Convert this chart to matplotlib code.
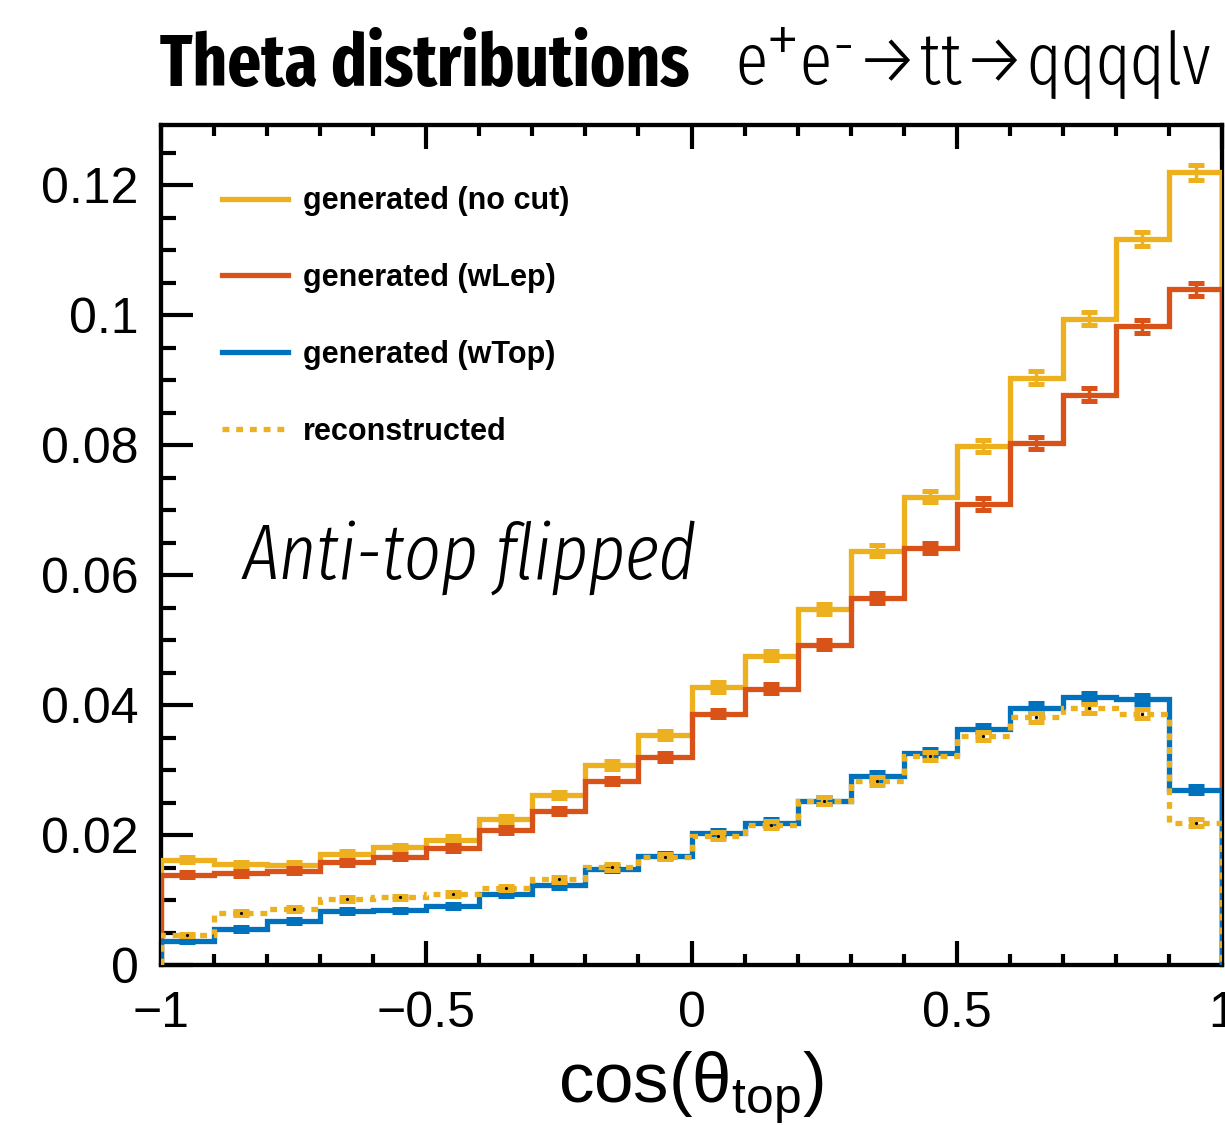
import numpy as np
import matplotlib
matplotlib.use("Agg")
import matplotlib.pyplot as plt
from matplotlib import font_manager
from matplotlib.lines import Line2D
from matplotlib.ticker import MultipleLocator, FuncFormatter

# binning of cos(theta_top)
x_lo, x_hi, n_bins = -1.0, 1.0, 20

# bin contents
no_cut = [0.0162, 0.0155, 0.0154, 0.0171, 0.0181, 0.0193, 0.0224, 0.0262, 0.0308, 0.0354,
          0.0428, 0.0476, 0.0548, 0.0638, 0.0721, 0.0799, 0.0904, 0.0995, 0.1117, 0.1220]
w_lep = [0.0139, 0.0141, 0.0145, 0.0158, 0.0167, 0.0180, 0.0208, 0.0237, 0.0283, 0.0320,
         0.0387, 0.0425, 0.0493, 0.0565, 0.0642, 0.0710, 0.0804, 0.0878, 0.0983, 0.1040]
w_top = [0.0037, 0.0056, 0.0068, 0.0083, 0.0084, 0.0091, 0.0110, 0.0123, 0.0148, 0.0168,
         0.0203, 0.0219, 0.0253, 0.0291, 0.0327, 0.0364, 0.0396, 0.0412, 0.0409, 0.0270]
reco = [0.0046, 0.0080, 0.0086, 0.0102, 0.0104, 0.0109, 0.0119, 0.0132, 0.0151, 0.0167,
        0.0199, 0.0216, 0.0253, 0.0283, 0.0322, 0.0352, 0.0381, 0.0395, 0.0387, 0.0219]

# stat. errors
err_no_cut = [0.0004, 0.0004, 0.0004, 0.0004, 0.0004, 0.0005, 0.0005, 0.0005, 0.0006, 0.0006,
              0.0007, 0.0007, 0.0008, 0.0008, 0.0009, 0.0009, 0.0010, 0.0010, 0.0011, 0.0011]
err_w_lep = [0.0004, 0.0004, 0.0004, 0.0004, 0.0004, 0.0004, 0.0005, 0.0005, 0.0005, 0.0006,
             0.0006, 0.0007, 0.0007, 0.0008, 0.0008, 0.0009, 0.0009, 0.0010, 0.0010, 0.0010]
err_w_top = [0.0002, 0.0003, 0.0003, 0.0003, 0.0003, 0.0003, 0.0003, 0.0004, 0.0004, 0.0004,
             0.0005, 0.0005, 0.0005, 0.0006, 0.0006, 0.0006, 0.0007, 0.0007, 0.0007, 0.0005]
err_reco = [0.0002, 0.0003, 0.0003, 0.0003, 0.0003, 0.0003, 0.0003, 0.0004, 0.0004, 0.0004,
            0.0005, 0.0005, 0.0005, 0.0006, 0.0006, 0.0006, 0.0007, 0.0007, 0.0007, 0.0005]

labels = ["generated (no cut)", "generated (wLep)", "generated (wTop)", "reconstructed"]
colors = ["#EDB120", "#D95319", "#0072BD", "#EDB120"]

plt.rcParams["font.family"] = ["Liberation Sans", "DejaVu Sans"]
plt.rcParams["mathtext.fontset"] = "custom"
plt.rcParams["mathtext.rm"] = "Liberation Sans"
plt.rcParams["mathtext.it"] = "Liberation Sans:italic"

# condensed face for title / annotation (Myriad-like)
names = {f.name for f in font_manager.fontManager.ttflist}
cond = "DejaVu Sans"
for cand in ["Fira Sans Extra Condensed", "Fira Sans Condensed", "PT Sans Narrow",
             "Asap Condensed", "Barlow Condensed", "Archivo Narrow"]:
    if cand in names:
        cond = cand
        break
cond_fam = [cond, "DejaVu Sans"]

edges = np.linspace(x_lo, x_hi, n_bins + 1)
centers = 0.5 * (edges[:-1] + edges[1:])

fig = plt.figure(figsize=(12.25, 11.25), dpi=100)
ax = fig.add_axes([0.1314, 0.1422, 0.8662, 0.7467])

lw = 3.8
dash = (0, (1.3, 1.3))
series = [(no_cut, err_no_cut), (w_lep, err_w_lep), (w_top, err_w_top), (reco, err_reco)]
for i, (vals, errs) in enumerate(series):
    ls = dash if i == 3 else "-"
    ax.stairs(vals, edges, baseline=0, color=colors[i], lw=lw, linestyle=ls, zorder=3 + i)
    ax.errorbar(centers, vals, yerr=errs, fmt="none", ecolor=colors[i], elinewidth=2.5,
                capsize=6, capthick=3.6, zorder=3 + i)
ax.plot(centers, reco, "k.", ms=2.5, zorder=8)

ax.set_xlim(x_lo, x_hi)
ax.set_ylim(0, 0.1293)
ax.xaxis.set_major_locator(MultipleLocator(0.5))
ax.xaxis.set_minor_locator(MultipleLocator(0.1))
ax.yaxis.set_major_locator(MultipleLocator(0.02))
ax.yaxis.set_minor_locator(MultipleLocator(0.005))
fmt = FuncFormatter(lambda v, p: ("%g" % v).replace("-", "\u2212"))
ax.xaxis.set_major_formatter(fmt)
ax.yaxis.set_major_formatter(fmt)

for s in ax.spines.values():
    s.set_linewidth(3.1)
ax.tick_params(axis="both", which="both", direction="in", width=3, labelsize=36)
ax.tick_params(axis="x", which="both", top=True, pad=19)
ax.tick_params(axis="x", which="major", length=17)
ax.tick_params(axis="x", which="minor", length=8)
ax.tick_params(axis="y", which="major", length=23, pad=16)
ax.tick_params(axis="y", which="minor", length=11)

ax.set_xlabel("cos(θ$_{\\mathrm{top}}$)", fontsize=51)
ax.xaxis.set_label_coords(0.5, -0.10)

handles = [Line2D([], [], color=colors[0], lw=lw),
           Line2D([], [], color=colors[1], lw=lw),
           Line2D([], [], color=colors[2], lw=lw),
           Line2D([], [], color=colors[3], lw=lw, linestyle=dash)]
ax.legend(handles, labels, loc="upper left", bbox_to_anchor=(0.0575, 0.927), frameon=False,
          prop=dict(family="Liberation Sans", weight="bold", size=22),
          handlelength=2.16, handletextpad=0.5, labelspacing=1.53,
          borderpad=0, borderaxespad=0)

ax.text(0.0773, 0.4607, "Anti-top flipped", transform=ax.transAxes, fontsize=56,
        style="italic", weight=300, va="baseline", ha="left", family=cond_fam)

fig.text(0.1306, 0.9236, "Theta distributions", fontsize=52, weight="bold",
         va="baseline", ha="left", family=cond_fam)
fig.text(0.60, 0.9245, "e$^{+}$e⁻→tt→qqqqlv", fontsize=52, weight=300,
         va="baseline", ha="left", family=cond_fam)

fig.savefig("out.png", dpi=100)
